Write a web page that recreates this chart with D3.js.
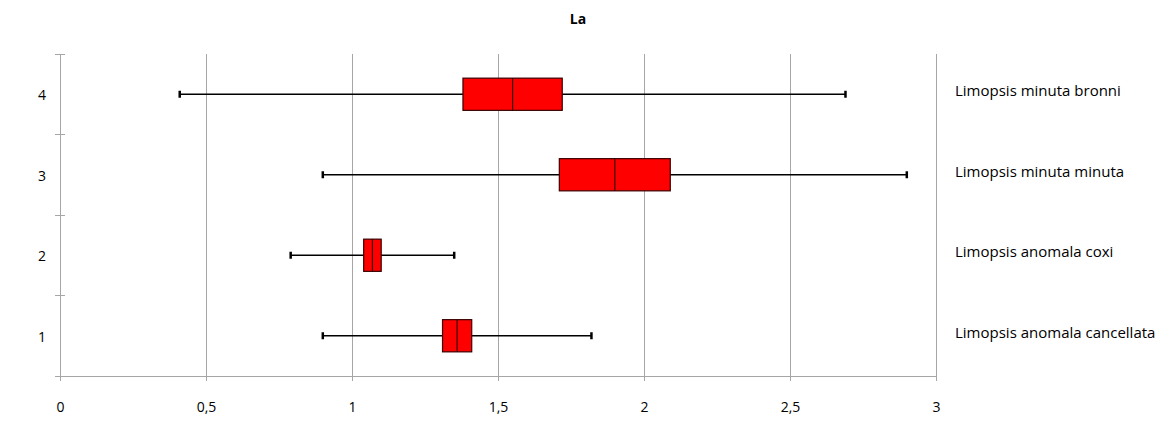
<!DOCTYPE html>
<html>
<head>
<meta charset="utf-8">
<script src="https://cdn.jsdelivr.net/npm/d3@7/dist/d3.min.js"></script>
<style>
  html, body { margin: 0; padding: 0; background: #fff; }
  svg { display: block; font-family: "Open Sans", "Noto Sans", sans-serif; }
</style>
</head>
<body>
<svg id="chart" width="1163" height="437"></svg>
<script>
// ---- Data ----
const categories = [1, 2, 3, 4];
const seriesNames = ["Limopsis anomala cancellata", "Limopsis anomala coxi", "Limopsis minuta minuta", "Limopsis minuta bronni"];
const minValues    = [0.90, 0.79, 0.90, 0.41];
const q1Values     = [1.31, 1.04, 1.71, 1.38];
const medianValues = [1.36, 1.07, 1.90, 1.55];
const q3Values     = [1.41, 1.10, 2.09, 1.72];
const maxValues    = [1.82, 1.35, 2.90, 2.69];
const xTicks = [0, 0.5, 1, 1.5, 2, 2.5, 3];
const chartTitle = "La";

(function () {
// ---- Layout ----
const svg = d3.select("#chart");
const pLeft = 60, pRight = 936, pTop = 54, pBottom = 376;

const x = d3.scaleLinear().domain([0, 3]).range([pLeft, pRight]);
const y = d3.scaleBand().domain(categories).range([pBottom, pTop]).padding(0);
const fmt = d => String(d).replace(".", ",");

// grid lines
svg.append("g").selectAll("line").data(xTicks.filter(d => d > 0)).join("line")
  .attr("x1", d => x(d)).attr("x2", d => x(d))
  .attr("y1", pTop).attr("y2", pBottom)
  .attr("stroke", "#a6a6a6").attr("stroke-width", 1).attr("shape-rendering", "crispEdges");

// x axis
const xAxis = svg.append("g").attr("transform", `translate(0,${pBottom})`)
  .call(d3.axisBottom(x).tickValues(xTicks).tickFormat(fmt).tickSize(5).tickPadding(21));
xAxis.select(".domain").attr("stroke", "#a6a6a6");
xAxis.selectAll(".tick line").attr("stroke", "#a6a6a6");
xAxis.selectAll(".tick text").attr("fill", "#000").style("font-size", "14px")
  .style("font-family", "'Open Sans', 'Noto Sans', sans-serif");

// y axis (ticks at band boundaries, crossing the axis)
const yEdges = [pBottom].concat(categories.map(c => y(c)));
const yAxisG = svg.append("g");
yAxisG.append("line").attr("x1", pLeft).attr("x2", pLeft).attr("y1", pTop).attr("y2", pBottom)
  .attr("stroke", "#a6a6a6").attr("shape-rendering", "crispEdges");
yAxisG.selectAll("line.tk").data(yEdges).join("line").attr("class", "tk")
  .attr("x1", pLeft - 5).attr("x2", pLeft + 5)
  .attr("y1", d => d).attr("y2", d => d)
  .attr("stroke", "#a6a6a6").attr("shape-rendering", "crispEdges");
yAxisG.selectAll("text").data(categories).join("text")
  .attr("x", 42).attr("y", d => y(d) + y.bandwidth() / 2 + 2)
  .attr("text-anchor", "middle").attr("dominant-baseline", "middle")
  .style("font-size", "14px").attr("fill", "#000").text(d => d);

// boxes
const boxH = y.bandwidth() * 0.4;
const capH = 7;
const data = categories.map((c, i) => ({
  c, name: seriesNames[i], min: minValues[i], q1: q1Values[i],
  med: medianValues[i], q3: q3Values[i], max: maxValues[i]
}));

const g = svg.append("g");
const row = g.selectAll("g").data(data).join("g")
  .attr("transform", d => `translate(0,${y(d.c) + y.bandwidth() / 2})`);

row.append("line")
  .attr("x1", d => x(d.min)).attr("x2", d => x(d.max))
  .attr("y1", 0).attr("y2", 0).attr("stroke", "#000").attr("stroke-width", 1.3);
row.append("line")
  .attr("x1", d => x(d.min)).attr("x2", d => x(d.min))
  .attr("y1", -capH / 2).attr("y2", capH / 2).attr("stroke", "#000").attr("stroke-width", 2.5);
row.append("line")
  .attr("x1", d => x(d.max)).attr("x2", d => x(d.max))
  .attr("y1", -capH / 2).attr("y2", capH / 2).attr("stroke", "#000").attr("stroke-width", 2.5);
row.append("rect")
  .attr("x", d => x(d.q1)).attr("width", d => x(d.q3) - x(d.q1))
  .attr("y", -boxH / 2).attr("height", boxH)
  .attr("fill", "#ff0000").attr("stroke", "#3a0000").attr("stroke-width", 1.2);
row.append("line")
  .attr("x1", d => x(d.med)).attr("x2", d => x(d.med))
  .attr("y1", -boxH / 2).attr("y2", boxH / 2).attr("stroke", "#3a0000").attr("stroke-width", 1.2);

// series labels on the right
svg.append("g").selectAll("text").data(data).join("text")
  .attr("x", 955).attr("y", d => y(d.c) + y.bandwidth() / 2 - 2)
  .attr("dominant-baseline", "middle")
  .style("font-size", "15px").attr("fill", "#000").text(d => d.name);

// title
svg.append("text").attr("x", 578).attr("y", 20)
  .attr("text-anchor", "middle").attr("dominant-baseline", "middle")
  .style("font-size", "14px").style("font-weight", "bold").text(chartTitle);
})();
</script>
</body>
</html>
